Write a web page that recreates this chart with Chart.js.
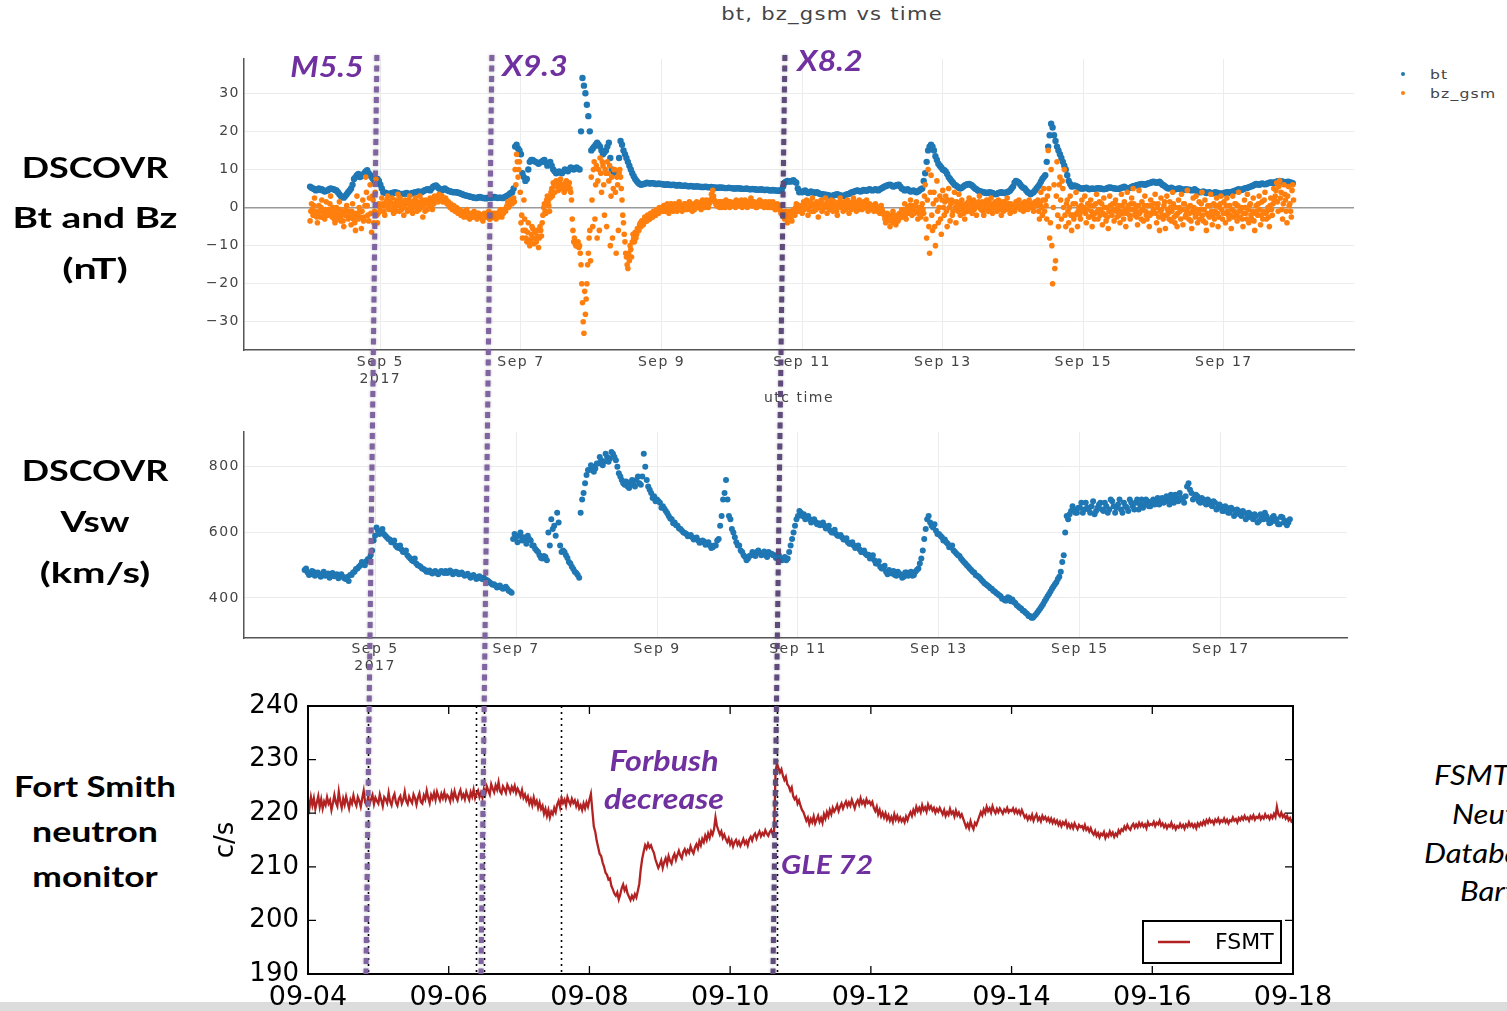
<!DOCTYPE html>
<html><head><meta charset="utf-8">
<script src="https://cdn.jsdelivr.net/npm/chart.js@4.4.1/dist/chart.umd.min.js"></script>
<style>
html,body{margin:0;padding:0;background:#fff;width:1507px;height:1011px;overflow:hidden;position:relative;}
canvas{position:absolute;}
.lbl{position:absolute;white-space:nowrap;line-height:1;transform:translate(-50%,-50%) scaleX(1.15);}
.side{font-family:Lato,"Open Sans",sans-serif;font-weight:bold;font-size:29px;color:#000;}
.ann{font-family:Lato,"Open Sans",sans-serif;font-weight:bold;font-style:italic;font-size:28px;color:#7030A0;z-index:6;}
.rt{position:absolute;white-space:nowrap;line-height:1;font-family:Lato,"Open Sans",sans-serif;font-style:italic;font-size:27px;color:#000;transform:translateY(-50%) scaleX(1.15);transform-origin:left center;}
.ptxt{font-family:"DejaVu Sans",Verdana,sans-serif;color:#444;}
.leg{position:absolute;white-space:nowrap;line-height:1;font-size:13px;letter-spacing:1px;transform:translateY(-50%) scaleX(1.2);transform-origin:left center;}
.dot{position:absolute;width:4px;height:4px;border-radius:50%;}
</style></head>
<body>
<div style="position:absolute;left:0;top:1002px;width:1507px;height:9px;background:#dcdcdc;"></div>

<canvas id="c1" width="1250" height="370" style="left:150px;top:40px;"></canvas>
<canvas id="c2" width="1250" height="260" style="left:150px;top:420px;"></canvas>
<canvas id="c3" width="1170" height="321" style="left:190px;top:690px;"></canvas>
<canvas id="ov" width="1507" height="1011" style="left:0;top:0;z-index:5;pointer-events:none;"></canvas>

<div class="lbl ptxt" style="left:832px;top:14px;font-size:17px;letter-spacing:1px;transform:translate(-50%,-50%) scaleX(1.24);">bt, bz_gsm vs time</div>
<div class="dot" style="left:1401px;top:72px;background:#1f77b4;"></div>
<div class="leg ptxt" style="left:1430px;top:74px;">bt</div>
<div class="dot" style="left:1401px;top:91px;background:#ff7f0e;"></div>
<div class="leg ptxt" style="left:1430px;top:93px;">bz_gsm</div>

<div class="lbl side" style="left:95px;top:166px;transform:translate(-50%,-50%) scaleX(1.24);">DSCOVR</div>
<div class="lbl side" style="left:95px;top:216px;transform:translate(-50%,-50%) scaleX(1.34);">Bt and Bz</div>
<div class="lbl side" style="left:95px;top:267px;transform:translate(-50%,-50%) scaleX(1.42);">(nT)</div>
<div class="lbl side" style="left:95px;top:469px;transform:translate(-50%,-50%) scaleX(1.24);">DSCOVR</div>
<div class="lbl side" style="left:95px;top:520px;transform:translate(-50%,-50%) scaleX(1.28);">Vsw</div>
<div class="lbl side" style="left:95px;top:571px;transform:translate(-50%,-50%) scaleX(1.38);">(km/s)</div>
<div class="lbl side" style="left:95px;top:785px;transform:translate(-50%,-50%) scaleX(1.2);">Fort Smith</div>
<div class="lbl side" style="left:95px;top:830px;transform:translate(-50%,-50%) scaleX(1.23);">neutron</div>
<div class="lbl side" style="left:95px;top:875px;transform:translate(-50%,-50%) scaleX(1.22);">monitor</div>

<div class="lbl ann" style="left:327px;top:66px;">M5.5</div>
<div class="lbl ann" style="left:535px;top:65px;">X9.3</div>
<div class="lbl ann" style="left:830px;top:60px;">X8.2</div>
<div class="lbl ann" style="left:664px;top:760px;">Forbush</div>
<div class="lbl ann" style="left:664px;top:798px;">decrease</div>
<div class="lbl ann" style="left:827px;top:864px;font-size:26px;">GLE 72</div>

<div class="rt" style="left:1434px;top:774px;">FSMT</div>
<div class="rt" style="left:1452px;top:813px;">Neutron</div>
<div class="rt" style="left:1424px;top:852px;">Database</div>
<div class="rt" style="left:1460px;top:890px;">Bartol</div>

<script>
// ---------------- DATA ----------------
// time axis: days since 2017-09-04 00:00 UTC
const btStepDays = 1/24;      // hourly (A samples on the hour, B samples at half past)
const bzStepDays = 1/48;      // 30 min (A on the half hour grid, B offset by 15 min)
const vswStepDays = 1/24;     // hourly (A on the hour, B at half past)
const fsmtStepDays = 1/48;    // 30 min

const btValues = [
5.5,5.0,4.5,5.0,4.8,4.2,4.5,5.0,4.8,4.5,3.5,2.8,3.0,4.0,5.0,7.5,8.5,8.0,8.5,9.5,9.0,8.0,7.0,7.5,
6.0,4.0,3.8,3.5,3.8,4.0,3.8,3.5,3.6,3.8,3.5,3.8,4.0,4.2,4.0,4.5,4.8,4.5,5.5,5.8,5.0,4.5,5.0,4.5,
4.2,4.0,4.0,3.8,3.5,3.2,3.0,2.8,2.6,2.5,2.8,2.5,2.4,2.6,2.5,2.8,2.5,2.6,2.5,3.0,3.5,4.0,16.0,15.5,
14.0,8.0,7.5,12.0,12.5,12.0,11.5,12.0,12.5,11.0,12.0,10.0,9.0,9.5,9.0,10.0,9.5,10.5,10.0,10.5,10.0,34.0,30.0,24.0,
15.0,16.0,17.0,16.0,14.0,15.0,17.0,10.0,9.0,9.5,17.5,15.0,13.0,11.0,9.0,7.5,6.5,6.0,6.2,6.5,6.3,6.4,6.2,6.3,
6.2,6.0,6.1,5.9,6.0,5.8,5.9,5.7,5.8,5.6,5.7,5.5,5.6,5.5,5.4,5.5,5.3,5.4,5.3,5.2,5.3,5.2,5.1,5.2,
5.1,5.0,5.1,5.0,4.9,5.0,4.8,4.9,4.8,4.7,4.8,4.6,4.7,4.5,4.6,4.5,4.4,4.6,6.5,7.0,6.8,7.2,6.5,4.0,
4.0,4.5,3.8,4.2,3.9,4.0,3.6,3.5,3.4,3.2,3.0,3.3,3.5,3.2,3.0,3.4,3.6,4.0,4.3,4.5,4.2,4.6,4.4,4.8,
4.5,4.8,4.5,5.0,5.5,5.8,6.0,5.5,5.8,6.0,5.0,4.5,4.8,4.2,4.5,4.0,4.5,5.0,9.0,15.0,16.5,15.0,12.5,11.0,
10.0,9.5,8.0,7.0,6.0,5.5,5.0,5.5,6.0,6.2,5.8,5.0,4.5,4.2,4.0,3.8,4.0,3.8,3.5,3.8,4.0,3.8,4.0,4.5,
5.5,7.0,6.5,5.5,5.0,4.0,3.5,4.0,5.0,6.0,7.5,8.5,16.0,22.0,19.0,16.0,14.0,12.0,10.0,7.0,5.5,5.8,5.5,5.0,
5.0,5.2,4.8,5.0,4.9,5.1,5.0,4.8,5.0,5.3,5.1,5.0,4.9,5.2,5.5,5.0,5.2,5.6,5.8,6.0,6.2,6.0,6.3,6.5,
6.8,6.5,6.8,6.0,5.5,5.0,5.2,4.8,4.9,5.0,4.6,4.8,4.7,4.5,4.8,4.2,4.0,4.2,3.8,4.0,3.7,4.0,3.8,3.6,
3.8,4.0,3.9,4.2,4.5,4.8,4.6,5.0,5.2,5.5,5.8,6.2,6.0,6.3,6.1,6.4,6.6,6.5,6.8,7.0,6.8,6.6,6.8,6.5
];
const btValuesB = [
5.2,4.8,4.8,4.6,4.5,4.4,4.8,4.9,4.6,4.0,3.0,2.6,3.5,4.5,6.0,8.0,8.8,8.2,9.0,9.8,8.5,7.5,7.2,7.0,
5.0,3.9,3.6,3.7,3.9,3.9,3.6,3.6,3.7,3.6,3.7,3.9,4.1,4.1,4.2,4.6,4.7,5.0,5.7,5.4,4.8,4.8,4.7,4.3,
4.1,4.0,3.9,3.6,3.3,3.1,2.9,2.7,2.5,2.7,2.6,2.5,2.5,2.5,2.7,2.6,2.6,2.5,2.8,3.2,3.8,5.0,16.5,15.0,
9.0,7.0,10.0,12.5,12.2,11.8,11.8,12.3,11.8,11.5,11.0,9.5,9.2,9.2,9.5,9.8,10.0,10.2,10.3,10.2,20.0,32.0,27.0,20.0,
15.5,16.5,16.5,15.0,14.5,16.0,13.0,9.5,9.2,13.0,16.5,14.0,12.0,10.0,8.2,7.0,6.2,6.1,6.3,6.4,6.4,6.3,6.2,6.2,
6.1,6.0,6.0,5.9,5.9,5.8,5.8,5.7,5.7,5.6,5.6,5.5,5.5,5.4,5.4,5.4,5.3,5.3,5.2,5.2,5.2,5.1,5.1,5.1,
5.0,5.0,5.0,4.9,4.9,4.9,4.8,4.8,4.7,4.7,4.7,4.6,4.6,4.5,4.5,4.4,4.5,5.5,6.8,6.9,7.0,6.8,5.0,4.2,
4.2,4.1,4.0,4.0,3.9,3.8,3.5,3.4,3.3,3.1,3.1,3.4,3.3,3.1,3.2,3.5,3.8,4.1,4.4,4.3,4.4,4.5,4.6,4.6,
4.6,4.6,4.8,5.2,5.6,5.9,5.8,5.6,5.9,5.5,4.8,4.6,4.5,4.3,4.2,4.2,4.8,7.0,12.0,16.0,16.0,13.5,11.5,10.5,
9.8,8.8,7.5,6.5,5.8,5.2,5.2,5.8,6.1,6.0,5.4,4.8,4.3,4.1,3.9,3.9,3.9,3.6,3.6,3.9,3.9,3.9,4.2,5.0,
6.5,6.8,6.0,5.2,4.5,3.8,3.8,4.5,5.5,6.8,8.0,12.0,19.0,21.0,17.5,15.0,13.0,11.0,8.5,6.2,5.6,5.6,5.2,5.0,
5.1,5.0,4.9,4.9,5.0,5.0,4.9,4.9,5.2,5.2,5.0,4.9,5.0,5.3,5.2,5.1,5.4,5.7,5.9,6.1,6.1,6.1,6.4,6.7,
6.6,6.6,6.4,5.8,5.2,5.1,5.0,4.8,5.0,4.8,4.7,4.7,4.6,4.6,4.5,4.1,4.1,4.0,3.9,3.8,3.8,3.9,3.7,3.7,
3.9,4.0,4.0,4.3,4.6,4.7,4.8,5.1,5.3,5.6,6.0,6.1,6.1,6.2,6.2,6.5,6.5,6.6,6.9,6.9,6.7,6.7,6.6,6.4
];

const bzValues = [
-3.5,1.0,-2.0,2.5,-1.5,-4.0,0.5,-2.5,2.0,-1.0,-3.0,1.5,-2.0,-0.5,3.0,-2.5,-1.0,-4.0,0.0,-2.0,1.5,-3.5,-1.5,-5.0,-2.0,0.5,-3.0,-1.0,-4.5,1.0,-2.0,-6.0,3.0,-3.0,-1.0,-5.5,2.0,-2.5,8.0,0.5,-3.5,6.0,-6.5,2.0,-1.0,7.5,-4.0,1.0,
-1.0,2.5,0.5,-2.0,1.5,3.0,-0.5,1.0,2.5,-1.5,0.0,2.0,3.5,-1.0,1.5,0.5,-2.0,2.0,1.0,-0.5,3.0,1.5,-1.5,0.5,2.5,-1.0,1.0,3.0,0.0,-2.5,1.5,2.0,-0.5,1.0,2.5,0.0,1.5,3.0,2.0,2.5,3.5,2.0,3.0,2.5,1.5,2.0,1.0,0.5,
1.0,-0.5,0.5,-1.0,0.0,-1.5,-0.5,-2.0,-1.0,-2.5,-1.5,-0.5,-2.0,-3.0,-1.5,-2.5,-1.0,-2.0,-3.0,-1.5,-2.5,-2.0,-3.5,-1.5,-2.0,-2.5,-1.0,-3.0,-2.0,-1.5,-2.5,-3.0,-1.5,-2.0,-0.5,-2.5,-1.5,-1.0,0.0,1.5,0.5,2.0,1.0,2.5,10.0,14.0,8.0,12.0,
-4.0,-8.0,2.0,-6.0,-9.0,-4.0,-10.0,-7.0,-5.5,-9.5,-8.0,-6.0,-10.5,-5.0,-7.5,-2.0,1.0,-1.5,3.0,0.5,2.5,5.0,6.5,4.0,7.0,5.5,6.5,7.5,5.0,6.0,4.5,7.0,5.5,6.5,4.0,-3.0,-9.0,-9.5,-10.0,-9.0,-10.0,-15.0,-25.0,-33.0,-28.0,-20.0,-12.0,-6.0,
8.0,-5.0,12.0,6.0,-8.0,10.0,13.0,4.0,11.0,-2.0,9.0,12.0,7.0,-10.0,8.0,5.0,10.0,-12.0,6.0,9.0,8.0,2.0,-4.0,-9.0,-13.0,-16.0,-14.0,-11.0,-9.0,-8.0,-6.5,-7.0,-5.5,-4.5,-5.0,-3.5,-4.0,-3.0,-3.5,-2.5,-3.0,-2.0,-2.5,-1.5,-2.0,-1.0,-1.5,-0.5,
0.0,-1.0,0.5,-0.5,1.0,-1.5,0.0,0.5,-1.0,1.0,0.0,-0.5,1.5,0.5,-1.0,0.0,1.0,-0.5,0.5,1.5,0.0,-1.0,1.0,0.5,1.5,0.0,1.0,-0.5,2.0,0.5,1.0,1.5,0.0,2.0,3.5,4.5,2.0,1.0,0.5,1.5,1.0,0.0,1.5,0.5,2.0,1.0,0.5,1.5,
1.0,0.5,1.5,2.0,0.5,1.0,1.5,0.0,1.0,2.0,1.5,0.5,1.0,2.5,0.5,1.5,1.0,0.0,1.5,2.0,0.5,1.0,0.0,1.5,1.0,0.5,0.0,1.0,1.5,0.5,-0.5,1.0,0.0,0.5,-1.0,-2.0,-3.0,-1.0,-4.0,-2.5,-1.5,-3.5,-0.5,-2.0,1.0,-1.0,0.5,-0.5,
-1.5,1.5,0.0,2.0,-2.0,1.0,0.5,2.5,-1.0,0.0,1.5,-2.5,1.0,2.0,-0.5,0.5,2.5,-1.5,1.0,0.0,2.0,-1.0,1.5,0.5,-2.0,1.0,2.5,0.0,-1.0,1.5,0.5,2.0,-1.5,1.0,0.0,2.5,1.5,-1.0,0.5,2.0,1.0,-0.5,1.5,0.0,2.0,-1.0,1.0,0.5,
0.5,-1.0,1.0,-0.5,0.0,-1.5,0.5,-1.0,-2.0,-4.0,-1.5,-3.0,-5.0,-2.5,-1.0,-3.5,-4.5,-2.0,-3.0,-1.5,-0.5,-2.5,1.0,-3.0,0.0,-1.5,2.0,-2.0,0.5,-1.0,1.5,-3.0,0.0,-2.5,1.0,-1.5,6.0,-8.0,10.0,-12.0,8.5,-6.0,4.0,-10.0,7.0,-4.0,3.0,-7.0,
4.5,-2.0,3.0,-5.0,5.0,-3.5,2.0,-1.0,4.0,-4.0,1.0,3.5,-2.0,2.0,0.5,-3.0,1.0,-1.0,2.5,0.0,-1.5,2.0,1.0,-2.0,0.5,3.0,-0.5,1.5,-2.0,0.0,2.0,-1.0,1.0,2.5,-1.5,0.5,1.5,-1.0,2.0,0.0,-2.0,1.5,0.5,-0.5,2.5,1.0,-1.5,0.5,
0.5,-1.0,1.5,0.0,2.0,-0.5,1.0,-1.0,1.5,0.5,-0.5,2.0,0.0,1.0,-1.0,1.5,0.5,2.0,-3.0,4.0,-2.0,5.0,2.0,-3.0,15.0,-8.0,10.0,-20.0,6.0,-14.0,12.0,-5.0,8.0,-3.0,5.0,10.0,-5.0,2.0,-4.0,3.0,-6.0,1.0,-2.0,4.0,-5.0,0.0,-3.0,2.0,
-1.0,3.0,-4.0,1.0,-2.5,2.0,-5.0,0.5,-1.5,3.5,-3.0,1.5,-0.5,-4.5,2.5,-2.0,0.0,-5.5,3.0,-1.0,1.0,-3.5,2.0,-2.5,0.5,-4.0,3.5,-1.5,1.5,-5.0,4.0,-0.5,-3.0,2.5,5.0,-2.0,0.0,-4.5,4.5,-1.0,1.5,-3.5,3.0,-2.0,0.5,-5.0,2.0,-1.5,
-0.5,3.5,-4.0,1.0,-6.0,2.5,-2.0,0.5,-5.5,3.0,-1.5,1.5,-3.5,4.0,-2.5,0.0,-5.0,2.0,-1.0,3.5,-4.5,1.0,-2.0,4.5,-3.0,0.5,-5.5,2.5,-1.5,3.0,-4.0,1.5,-0.5,4.0,-3.5,2.0,-6.0,0.5,-2.5,3.5,-4.5,1.0,-1.0,2.5,-5.0,0.0,3.0,-3.0,
1.5,-4.0,2.5,-2.0,0.5,-5.5,3.0,-1.0,1.0,-3.5,4.0,-2.5,0.0,-5.0,2.0,-1.5,3.5,-4.0,1.0,-3.0,2.5,-6.0,0.5,-2.0,3.0,-4.5,1.5,-1.0,4.0,-3.0,0.0,-5.0,2.5,-2.0,5.0,3.0,6.5,-1.0,7.0,4.0,-3.0,6.0,2.0,-4.0,5.5,1.0,-2.5,6.0
];
const bzValuesB = [
-1.0,-0.5,0.5,-1.0,-2.5,-1.5,-1.0,0.0,-2.5,-1.5,-0.5,-2.0,-1.0,1.0,-1.5,0.0,-3.0,-2.0,-1.0,-3.0,-0.5,-2.0,-3.5,-1.0,-0.5,-1.5,-2.0,-2.5,-1.0,-3.0,-4.0,-1.5,-2.0,0.0,-2.5,-1.0,-3.5,0.5,4.0,-2.0,2.5,-1.5,3.0,-4.0,4.0,-2.0,-1.5,0.0,
0.5,1.0,-1.0,0.5,2.0,0.0,1.5,-0.5,1.0,0.5,-1.0,1.5,0.5,2.5,-0.5,1.0,0.0,1.5,-1.0,2.0,0.5,-0.5,1.0,2.0,0.0,1.5,-0.5,1.0,2.0,0.5,-1.0,1.0,1.5,0.0,2.0,-0.5,1.0,2.0,2.5,1.5,2.0,3.0,1.5,2.0,2.5,1.0,1.5,0.0,
0.0,0.5,-0.5,0.0,-1.0,-0.5,-1.5,-1.0,-2.0,-1.5,-1.0,-2.5,-1.5,-2.0,-2.5,-1.5,-2.0,-2.5,-1.5,-2.5,-2.0,-3.0,-2.0,-2.5,-1.5,-2.0,-3.0,-1.5,-2.5,-2.0,-1.5,-2.0,-2.5,-1.0,-2.0,-1.5,-0.5,-1.0,0.5,0.0,1.0,1.5,2.0,1.5,6.0,12.0,10.0,4.0,
-2.0,-6.0,-3.0,-8.0,-6.5,-9.0,-8.5,-5.0,-8.0,-6.5,-9.0,-7.5,-8.0,-6.0,-4.0,0.0,-1.0,2.0,1.5,-1.0,4.0,3.0,5.5,6.0,6.0,4.5,7.0,6.0,5.5,4.0,6.5,5.0,6.0,5.0,2.0,-6.0,-8.0,-10.0,-9.5,-10.5,-12.0,-20.0,-30.0,-22.0,-24.0,-15.0,-8.0,-14.0,
2.0,10.0,-3.0,11.0,7.0,-6.0,9.0,12.0,6.0,10.0,-5.0,9.0,11.0,3.0,-8.0,10.0,4.0,8.0,-6.0,10.0,5.0,-2.0,-7.0,-12.0,-15.0,-12.0,-10.0,-13.0,-7.0,-9.0,-8.0,-5.5,-6.0,-4.0,-3.5,-4.5,-2.5,-3.5,-2.0,-3.0,-1.5,-2.5,-1.0,-2.0,-0.5,-1.5,0.0,-1.0,
-0.5,0.5,-1.0,0.0,0.5,-0.5,1.0,-0.5,0.0,0.5,-1.0,1.0,0.0,-0.5,0.5,1.0,0.0,0.5,1.0,-0.5,0.5,0.0,-0.5,1.0,0.5,1.0,0.0,1.5,1.0,0.0,2.0,0.5,1.0,1.5,2.5,3.0,1.5,0.5,1.0,0.0,1.5,0.5,1.0,0.0,1.0,1.5,0.0,1.0,
0.5,1.0,0.0,1.5,1.0,0.5,2.0,1.0,0.5,1.0,0.0,1.5,1.0,0.5,1.5,0.5,0.0,1.0,0.5,1.0,1.5,0.5,1.0,0.5,0.0,1.5,0.5,0.0,1.0,-0.5,0.5,0.0,-0.5,-1.5,-2.0,-2.5,-1.5,-3.0,-2.0,-1.0,-2.5,-1.0,-1.5,0.0,-0.5,0.5,-1.0,0.0,
0.5,-0.5,1.0,0.0,-0.5,1.5,-1.0,0.5,1.0,-0.5,0.5,0.0,1.5,-1.0,1.0,0.0,0.5,1.5,-0.5,1.0,0.0,0.5,1.0,-1.0,0.0,1.5,0.5,1.0,0.5,-0.5,1.0,0.0,0.5,-0.5,1.5,0.5,0.0,1.0,-0.5,0.5,0.0,1.0,0.5,1.0,0.0,0.5,-0.5,0.0,
-0.5,0.0,0.5,-1.0,-0.5,0.0,-0.5,-1.5,-3.0,-2.5,-3.5,-2.0,-3.0,-4.0,-2.0,-2.5,-3.0,-3.5,-1.5,-2.5,-1.5,-1.0,-2.0,-0.5,-1.0,0.5,-1.0,0.0,-1.5,0.5,-1.0,-1.5,-1.0,0.0,-0.5,3.0,-3.0,2.0,-5.0,4.0,-2.0,1.0,-5.0,2.0,-1.0,0.0,-3.0,2.0,
0.0,1.5,-1.0,2.0,0.0,1.0,-2.0,1.5,0.0,1.5,-1.0,0.0,1.0,-0.5,-1.5,0.5,0.0,1.5,-0.5,1.0,0.5,-0.5,0.0,1.0,1.5,0.0,1.0,-1.0,1.0,0.5,0.0,1.5,0.0,-0.5,1.0,0.0,0.5,1.0,-0.5,1.0,0.0,-1.0,1.5,0.0,0.5,-0.5,1.0,0.0,
0.0,0.5,0.5,1.0,0.5,0.0,0.0,0.5,0.5,1.0,0.5,0.5,1.0,0.0,0.5,1.0,1.0,-1.0,1.0,0.0,2.0,-1.0,0.5,3.0,5.0,-4.0,-10.0,0.0,-16.0,3.0,-2.0,6.0,2.0,7.0,0.0,-2.0,1.0,-1.0,0.0,-2.0,-2.0,-3.0,1.0,-1.5,-1.0,-2.0,0.5,-1.0,
0.0,-1.5,-0.5,-2.5,0.5,-1.0,-2.0,-3.0,1.0,-1.0,-0.5,-2.0,1.0,-1.5,0.0,-3.5,-2.5,-1.0,0.5,-2.0,-0.5,1.0,-1.0,0.0,-2.0,-1.0,0.5,-3.0,-0.5,-1.5,0.5,-2.0,1.0,-0.5,1.0,-1.0,-2.5,0.5,-1.5,-3.0,-0.5,0.5,-1.0,-3.0,-1.5,-2.0,0.5,-1.0,
1.0,-1.5,0.0,-2.5,-1.0,-0.5,-3.0,1.5,-2.0,-0.5,-3.0,0.0,-1.0,1.0,-4.0,-2.0,-1.5,0.0,-3.0,-0.5,1.0,-2.5,-1.0,0.0,-1.5,-3.5,-1.0,0.0,-2.5,-0.5,-1.5,-3.0,1.0,-2.0,-0.5,-4.0,-1.5,-2.0,0.5,-1.0,-2.0,-3.0,0.5,-1.5,-2.5,1.0,-0.5,-1.5,
-1.5,0.5,-1.0,-3.0,-2.0,-0.5,-2.5,1.0,-2.0,0.5,-1.0,-0.5,-3.0,-1.5,0.0,-3.0,-0.5,0.5,-2.0,-1.0,-3.5,-1.5,-1.0,1.0,-0.5,-2.0,-3.0,2.0,-1.5,-1.0,-2.5,0.5,-0.5,1.0,2.0,4.5,1.5,5.5,2.5,-0.5,1.0,3.5,-1.0,3.0,0.5,-1.0,4.5,2.0
];

const vswValues = [
485,478,472,480,475,470,473,468,475,470,466,472,468,465,458,452,470,480,490,500,505,512,520,545,
590,605,600,595,585,578,570,560,552,548,540,530,520,512,505,498,490,485,480,478,480,476,478,480,
482,478,480,476,478,475,472,470,468,466,465,462,460,462,455,448,440,438,435,432,430,428,420,580,
585,590,575,580,590,575,560,545,530,520,525,600,640,620,660,560,545,530,510,495,480,470,660,720,
775,790,800,795,810,820,815,830,825,840,820,780,760,745,740,750,745,760,750,770,800,740,720,710,
700,690,680,665,650,640,630,620,610,600,595,590,585,580,575,570,572,565,560,555,560,580,650,720,
700,640,600,570,560,540,525,520,530,535,540,538,535,530,540,535,530,525,520,518,515,540,580,620,
650,660,655,645,640,635,632,628,625,620,615,605,600,595,590,585,578,570,565,560,555,548,540,535,
532,525,515,505,495,490,480,485,475,470,480,470,465,478,472,468,480,490,520,580,640,630,615,605,
595,585,578,565,555,545,535,528,515,505,495,485,478,468,460,450,442,435,428,420,412,405,398,392,
400,395,385,375,368,360,352,345,340,350,362,375,390,405,420,435,448,465,510,600,640,665,670,660,
675,660,690,670,680,655,675,690,665,680,670,695,660,685,670,690,675,700,680,690,670,700,685,695,
680,700,690,685,705,695,700,715,690,705,720,700,710,750,720,705,710,690,700,685,695,680,690,675,
680,665,675,660,670,655,665,650,660,645,655,640,650,635,645,660,640,630,650,640,625,645,635,630
];
const vswValuesB = [
490,470,482,468,478,465,480,470,462,476,470,460,472,460,464,470,478,488,495,510,500,518,530,575,
615,595,610,590,580,570,575,555,560,540,545,525,515,520,500,495,488,480,484,475,482,472,482,476,
476,484,472,480,472,478,468,474,462,470,458,466,458,456,452,444,442,432,438,428,434,422,416,595,
570,600,585,565,580,560,550,540,522,528,515,560,610,590,630,540,540,522,505,488,476,462,700,750,
790,805,785,810,830,805,840,815,845,830,800,770,750,755,735,760,740,770,745,840,760,730,705,695,
695,675,672,658,642,628,622,612,605,598,588,592,578,584,568,575,562,570,552,560,575,620,700,760,
650,610,585,560,545,530,515,528,540,528,545,530,542,525,535,530,522,530,515,525,520,560,600,640,
665,650,640,650,630,640,625,622,630,612,620,600,608,590,592,578,582,565,570,552,560,540,545,530,
520,530,505,512,490,498,472,478,482,468,475,462,478,468,480,470,485,505,545,610,650,620,625,595,
590,575,570,555,560,540,530,520,510,500,490,480,470,465,455,445,438,430,422,415,408,398,392,402,
390,388,378,370,362,355,345,340,345,356,368,382,398,412,428,442,458,480,530,650,655,680,660,675,
690,670,675,660,695,665,685,670,690,660,700,680,675,700,660,680,665,690,670,700,685,675,700,680,
695,685,705,700,690,710,685,700,715,695,705,690,740,730,700,715,695,705,690,700,685,695,670,685,
665,680,660,675,650,670,655,665,640,660,645,655,630,655,640,650,628,645,635,625,648,630,622,640
];

const fsmtValues = [
222.5,221.0,223.0,221.5,222.8,220.8,222.0,223.2,221.2,222.6,220.9,222.2,221.5,223.0,221.8,222.4,220.6,221.9,223.4,222.0,221.3,224.0,222.2,221.0,222.7,221.6,223.1,222.0,220.9,222.5,221.8,223.3,222.1,221.4,223.0,222.3,221.2,222.8,224.2,222.0,221.5,223.0,221.8,222.6,223.4,221.7,222.9,222.3,
221.8,223.5,222.4,221.3,223.0,222.6,221.9,223.8,222.2,221.5,222.9,223.6,222.0,221.4,222.7,223.2,221.8,222.5,224.0,222.3,221.7,223.1,222.4,221.9,223.5,222.8,221.6,222.9,223.7,222.1,221.8,223.3,222.6,224.2,222.9,221.9,223.4,222.7,223.8,222.5,224.0,223.1,222.4,223.6,222.8,223.9,222.6,223.4,
223.0,222.2,223.8,222.7,224.1,223.0,222.4,223.6,224.3,222.9,223.5,222.6,224.0,223.2,222.5,223.9,223.1,224.4,222.8,223.6,224.2,223.0,223.8,222.9,224.5,223.6,225.0,224.2,223.5,225.4,224.6,223.9,225.2,224.4,225.8,224.1,223.7,225.0,224.5,223.8,225.3,224.7,223.9,224.9,224.2,225.1,223.8,224.6,
224.0,223.2,224.3,222.9,223.5,222.4,223.1,221.8,222.6,221.5,222.9,221.7,222.3,221.0,222.0,220.8,221.4,219.9,220.8,219.5,220.6,219.2,220.3,219.8,221.0,220.2,221.6,222.3,221.1,222.8,221.9,222.5,221.4,223.0,222.2,221.6,222.7,221.9,222.4,221.3,222.1,220.9,221.5,220.6,221.8,220.9,222.0,221.2,
222.5,223.6,220.5,217.5,216.5,214.8,213.6,212.4,212.0,210.8,210.0,208.9,208.5,207.6,207.8,206.4,205.8,205.0,204.6,205.2,203.9,204.8,206.0,206.7,205.6,206.2,205.0,204.4,203.8,204.6,204.0,204.9,204.3,205.5,206.8,209.5,211.5,212.8,214.0,213.4,214.3,213.6,214.0,213.2,212.6,211.4,210.6,209.8,
210.4,211.2,209.8,210.9,211.6,210.5,212.0,211.1,210.6,211.8,212.4,211.3,212.2,213.0,212.1,211.6,212.8,213.3,212.4,213.1,212.6,213.8,213.0,212.5,213.6,214.2,213.4,214.8,214.0,215.2,214.6,215.8,215.0,216.2,215.4,216.6,216.0,217.0,219.2,217.6,216.8,216.0,216.6,215.4,216.0,215.2,214.6,215.3,
214.2,214.9,213.8,214.6,215.0,214.1,214.7,213.9,214.5,215.2,214.3,214.8,214.0,215.1,215.6,214.9,215.8,216.2,215.3,216.0,216.6,215.7,216.3,215.9,216.8,216.2,215.8,216.5,216.9,216.1,216.7,228.0,229.2,228.4,227.6,228.2,227.0,226.2,226.8,225.4,225.0,224.2,224.8,223.2,222.6,223.0,221.8,222.4,
221.4,220.6,220.2,219.4,218.6,219.2,218.0,218.9,218.3,219.4,218.1,218.8,219.5,218.4,219.1,218.2,219.8,219.0,220.2,219.4,220.6,219.8,221.0,220.3,220.8,221.5,220.4,221.2,221.8,220.9,221.6,222.2,221.3,222.0,221.4,222.5,221.7,220.9,221.9,222.4,221.6,222.8,221.8,222.3,221.5,222.6,221.9,222.2,
221.6,222.1,221.0,220.4,221.2,219.8,220.6,219.4,220.1,219.2,220.0,218.9,219.6,218.6,219.3,218.4,219.8,218.8,219.5,218.6,219.2,218.5,219.0,218.3,219.4,218.7,219.6,220.2,219.5,220.6,219.9,221.2,220.4,221.0,220.2,221.5,220.6,221.1,220.3,221.6,220.8,221.3,220.5,221.0,220.1,220.8,220.3,221.0,
220.4,219.8,220.6,219.5,220.2,219.7,220.8,219.9,220.3,219.4,220.5,219.6,220.1,219.3,219.8,219.0,218.2,217.4,218.0,217.2,218.5,217.6,217.0,218.2,217.8,218.6,219.4,220.2,219.6,220.7,220.0,221.2,220.4,220.9,220.1,221.3,220.5,220.0,220.8,220.2,220.9,220.4,219.9,220.7,220.3,221.0,220.2,220.6,
220.4,220.9,220.1,220.7,220.0,220.5,219.8,220.6,219.9,219.2,219.6,218.8,219.4,218.9,219.7,218.6,219.3,219.8,218.7,219.2,218.5,219.5,218.9,219.3,218.6,219.1,218.4,219.0,218.2,218.8,218.1,218.6,217.8,218.4,217.6,218.3,217.9,218.5,217.4,218.0,217.3,217.9,217.2,218.1,217.5,217.0,217.8,217.4,
217.6,217.0,217.8,216.9,217.3,216.6,217.2,216.4,216.0,216.7,215.8,216.3,215.5,216.2,215.9,216.5,215.4,216.1,215.7,216.6,215.9,216.4,215.6,216.2,215.8,216.8,216.3,217.0,216.7,217.5,217.0,217.8,217.2,216.9,217.6,218.0,217.3,217.9,217.4,218.2,217.6,218.1,217.5,217.9,217.2,218.3,217.7,218.0,
217.8,218.4,217.6,218.2,217.9,218.6,217.7,218.1,217.4,217.9,217.2,217.8,217.5,218.2,217.3,217.7,217.0,217.6,217.3,218.0,217.4,217.8,217.1,217.9,217.5,218.3,217.6,218.0,217.4,217.9,217.2,218.1,217.6,218.2,217.8,218.5,217.9,218.7,218.2,218.9,218.3,218.6,218.0,218.8,218.4,219.0,218.2,218.7,
218.4,219.0,218.3,218.8,218.1,218.7,218.5,219.2,218.6,218.9,218.3,219.1,218.7,219.3,218.8,219.5,218.9,219.2,218.6,219.4,219.0,219.6,218.8,219.3,219.1,219.7,218.9,219.4,219.0,219.8,219.2,219.5,218.9,219.6,219.1,219.9,219.3,221.2,219.8,219.4,220.1,219.3,219.7,219.0,219.5,218.7,219.1,218.4,
218.6
];

// tick positions (days since Sep 4) and labels
const plotlyTickDays = [1,3,5,7,9,11,13];            // Sep 5 ... Sep 17
const mplTickDays = [0,2,4,6,8,10,12,14];           // 09-04 ... 09-18
const btTicks = [-30,-20,-10,0,10,20,30];
const vswTicks = [400,600,800];
const fsmtTicks = [190,200,210,220,230,240];

// flare markers (purple): day positions where the drawn marker crosses the top and bottom panels
const flareNames = ['M5.5','X9.3','X8.2'];
const flareTopDay = [0.95, 2.586, 6.754];
const flareBottomDay = [0.824, 2.459, 6.609];
const flareColors = ['#8064A2','#8064A2','#5F4A7C'];
// black dotted event lines in the neutron monitor panel
const dottedDays = [0.856, 2.382, 2.501, 3.603, 6.67];

// ---------------- helpers ----------------
const toPts = (vals, step, off) => vals.map((v,i)=>({x:i*step + (off||0), y:v}));
const pFont = {family:'"DejaVu Sans", Verdana, sans-serif', size:14};
const pColor = '#444';
const spacing = {id:'spacing', beforeDraw(ch){ ch.ctx.letterSpacing = '1.5px'; }};
const fixTicks = arr => s => { s.ticks = arr.map(v=>({value:v})); };
const sepLabel = v => v===1 ? ['Sep 5','2017'] : 'Sep ' + (4+v);
const minusLabel = v => v<0 ? '\u2212'+Math.abs(v) : String(v);

function plotlyX(min, max, h, pad, title){
  return {
    type:'linear', min, max,
    afterBuildTicks: fixTicks(plotlyTickDays),
    afterFit: s=>{ s.height=h; s.paddingLeft=0; s.paddingRight=0; },
    grid:{color:'#ececec', lineWidth:1, drawTicks:false},
    border:{display:true, color:'#555', width:1.5},
    ticks:{padding:pad, font:pFont, color:pColor, maxRotation:0, autoSkip:false, callback:sepLabel},
    title: title ? {display:true, text:title, font:pFont, color:pColor, padding:{top:0,bottom:3}} : {display:false}
  };
}
function plotlyY(min, max, ticks, zero){
  return {
    type:'linear', min, max,
    afterBuildTicks: fixTicks(ticks),
    afterFit: s=>{ s.width=94; s.paddingTop=0; s.paddingBottom=0; },
    grid:{color: c => (zero && c.tick && c.tick.value===0) ? '#999' : '#ececec',
          lineWidth: c => (zero && c.tick && c.tick.value===0) ? 1.5 : 1, drawTicks:false},
    border:{display:true, color:'#555', width:1.5},
    ticks:{padding:4, font:pFont, color:pColor, callback:minusLabel}
  };
}
const baseOpts = {responsive:false, animation:false, events:[], normalized:true,
  plugins:{legend:{display:false}, tooltip:{enabled:false}}};

// ---------------- chart 1: bt, bz_gsm ----------------
const c1 = new Chart(document.getElementById('c1'), {
  type:'scatter',
  data:{datasets:[
    {label:'bt', data:toPts(btValues, btStepDays).concat(toPts(btValuesB, btStepDays, btStepDays/2)),
     backgroundColor:'#1f77b4', pointRadius:3.2, borderWidth:0, order:2},
    {label:'bz_gsm', data:toPts(bzValues, bzStepDays).concat(toPts(bzValuesB, bzStepDays, bzStepDays/2)),
     backgroundColor:'#ff7f0e', pointRadius:2.8, borderWidth:0, order:1}
  ]},
  options:Object.assign({}, baseOpts, {
    layout:{padding:{left:0, top:19, right:46, bottom:0}},
    scales:{ x: plotlyX(-0.94, 14.85, 60, 4, 'utc time'), y: plotlyY(-37.4, 39, btTicks, true) }
  }),
  plugins:[spacing]
});

// ---------------- chart 2: Vsw ----------------
const c2 = new Chart(document.getElementById('c2'), {
  type:'scatter',
  data:{datasets:[
    {label:'Vsw', data:toPts(vswValues, vswStepDays).concat(toPts(vswValuesB, vswStepDays, vswStepDays/2)),
     backgroundColor:'#1f77b4', pointRadius:3, borderWidth:0}
  ]},
  options:Object.assign({}, baseOpts, {
    layout:{padding:{left:0, top:12, right:53, bottom:0}},
    scales:{ x: plotlyX(-0.86, 14.79, 42, 3, null), y: plotlyY(278, 906, vswTicks, false) }
  }),
  plugins:[spacing]
});

// ---------------- chart 3: Fort Smith neutron monitor ----------------
const mplFrame = {
  id:'mplFrame',
  beforeDatasetsDraw(ch){
    const {ctx, chartArea:a, scales:{x}} = ch;
    ctx.save(); ctx.strokeStyle='#000'; ctx.lineWidth=1.6; ctx.setLineDash([2,4]);
    dottedDays.forEach(d=>{
      const px = Math.round(x.getPixelForValue(d))+0.5;
      ctx.beginPath(); ctx.moveTo(px,a.top); ctx.lineTo(px,a.bottom); ctx.stroke();
    });
    ctx.restore();
  },
  afterDraw(ch){
    const {ctx, chartArea:a, scales:{x,y}} = ch;
    ctx.save();
    ctx.strokeStyle='#000'; ctx.lineWidth=2;
    ctx.strokeRect(a.left, a.top, a.right-a.left, a.bottom-a.top);
    ctx.lineWidth=1.3; const tl=8;
    mplTickDays.forEach(d=>{ const px=x.getPixelForValue(d);
      ctx.beginPath(); ctx.moveTo(px,a.bottom); ctx.lineTo(px,a.bottom-tl); ctx.moveTo(px,a.top); ctx.lineTo(px,a.top+tl); ctx.stroke(); });
    fsmtTicks.forEach(v=>{ const py=y.getPixelForValue(v);
      ctx.beginPath(); ctx.moveTo(a.left,py); ctx.lineTo(a.left+tl,py); ctx.moveTo(a.right,py); ctx.lineTo(a.right-tl,py); ctx.stroke(); });
    // legend box
    const bw=138, bh=42, bx=a.right-12-bw, by=a.bottom-11-bh;
    ctx.fillStyle='#fff'; ctx.fillRect(bx,by,bw,bh);
    ctx.lineWidth=2; ctx.strokeRect(bx,by,bw,bh);
    ctx.strokeStyle='#B22222'; ctx.lineWidth=2.5;
    ctx.beginPath(); ctx.moveTo(bx+15, by+bh/2); ctx.lineTo(bx+47, by+bh/2); ctx.stroke();
    ctx.fillStyle='#000'; ctx.font='22px "DejaVu Sans", sans-serif'; ctx.textBaseline='middle';
    ctx.fillText(ch.data.datasets[0].label, bx+72, by+bh/2+1);
    ctx.restore();
  }
};
const c3 = new Chart(document.getElementById('c3'), {
  type:'scatter',
  data:{datasets:[
    {label:'FSMT', data:toPts(fsmtValues, fsmtStepDays), showLine:true, borderColor:'#B22222', borderWidth:2.3, pointRadius:0, tension:0}
  ]},
  options:Object.assign({}, baseOpts, {
    layout:{padding:{left:0, top:16, right:67, bottom:0}},
    scales:{
      x:{type:'linear', min:0, max:14,
        afterBuildTicks: fixTicks(mplTickDays),
        afterFit: s=>{ s.height=37; s.paddingLeft=0; s.paddingRight=0; },
        grid:{display:false}, border:{display:false},
        ticks:{padding:2, font:{family:'"DejaVu Sans", sans-serif', size:27, lineHeight:1}, color:'#000', maxRotation:0, autoSkip:false,
          callback: v => '09-' + String(4+v).padStart(2,'0')}},
      y:{type:'linear', min:190, max:240,
        afterBuildTicks: fixTicks(fsmtTicks),
        afterFit: s=>{ s.width=118; s.paddingTop=0; s.paddingBottom=0; },
        grid:{display:false}, border:{display:false},
        ticks:{padding:1, font:{family:'"DejaVu Sans", sans-serif', size:26, lineHeight:1}, color:'#000'},
        title:{display:true, text:'c/s', font:{family:'"DejaVu Sans", sans-serif', size:26, lineHeight:1.2}, color:'#000', padding:{top:21,bottom:0}}}
    }
  }),
  plugins:[mplFrame]
});

// ---------------- overlay: flare marker lines crossing all panels ----------------
(function(){
  const ctx = document.getElementById('ov').getContext('2d');
  const o1 = {left:150, top:40}, o3 = {left:190, top:690};
  ctx.save();
  ctx.lineWidth = 5; ctx.setLineDash([6,4.5]); ctx.lineCap='butt';
  ctx.shadowColor='rgba(0,0,0,0.3)'; ctx.shadowBlur=3;
  flareNames.forEach((n,i)=>{
    const x1 = o1.left + c1.scales.x.getPixelForValue(flareTopDay[i]);
    const y1 = o1.top + c1.chartArea.top - 4;
    const x2 = o3.left + c3.scales.x.getPixelForValue(flareBottomDay[i]);
    const y2 = o3.top + c3.chartArea.bottom;
    ctx.strokeStyle = flareColors[i];
    ctx.beginPath(); ctx.moveTo(x1,y1); ctx.lineTo(x2,y2); ctx.stroke();
  });
  ctx.restore();
})();
</script>
</body></html>
